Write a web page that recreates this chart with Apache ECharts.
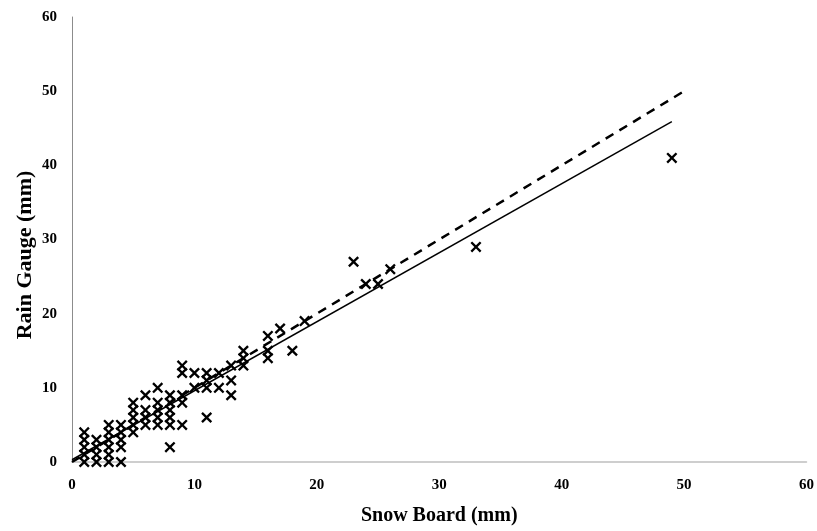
<!DOCTYPE html>
<html>
<head>
<meta charset="utf-8">
<script src="https://cdn.jsdelivr.net/npm/echarts@6/dist/echarts.min.js"></script>
<style>
  html, body { margin: 0; padding: 0; background: #fff; }
  #main { width: 817px; height: 531px; }
</style>
</head>
<body>
<div id="main"></div>
<script>
// snow board vs rain gauge readings (mm)
var snowBoard = [
  1, 1, 1, 1, 1,
  2, 2, 2, 2,
  3, 3, 3, 3, 3, 3,
  4, 4, 4, 4, 4,
  5, 5, 5, 5, 5,
  6, 6, 6, 6,
  7, 7, 7, 7, 7,
  8, 8, 8, 8, 8, 8,
  9, 9, 9, 9, 9,
  10, 10,
  11, 11, 11, 11,
  12, 12,
  13, 13, 13,
  14, 14, 14,
  16, 16, 16,
  17, 18, 19, 23, 24, 25, 26, 33, 49
];
var rainGauge = [
  0, 1, 2, 3, 4,
  0, 1, 2, 3,
  0, 1, 2, 3, 4, 5,
  0, 2, 3, 4, 5,
  4, 5, 6, 7, 8,
  5, 6, 7, 9,
  5, 6, 7, 8, 10,
  2, 5, 6, 7, 8, 9,
  5, 8, 9, 12, 13,
  10, 12,
  6, 10, 11, 12,
  10, 12,
  9, 11, 13,
  13, 14, 15,
  14, 15, 17,
  18, 15, 19, 27, 24, 24, 26, 29, 41
];
// fitted line and 1:1 line end points
var fitX = [0, 49];
var fitY = [0.3, 45.9];
var oneToOneX = [0, 50];
var oneToOneY = [0, 50];

var points = snowBoard.map(function (x, i) { return [x, rainGauge[i]]; });
var fitLine = fitX.map(function (x, i) { return [x, fitY[i]]; });
var refLine = oneToOneX.map(function (x, i) { return [x, oneToOneY[i]]; });

var myChart = echarts.init(document.getElementById('main'));
var labelFont = { fontFamily: 'Liberation Serif', fontWeight: 'bold', fontSize: 15, color: '#000' };

var option = {
  animation: false,
  grid: { left: 72, right: 10, top: 17, bottom: 64 },
  graphic: [{
    type: 'text',
    x: 25, y: 255,
    rotation: Math.PI / 2,
    style: {
      text: 'Rain Gauge (mm)',
      font: 'bold 22px "Liberation Serif"',
      fill: '#000',
      align: 'center',
      verticalAlign: 'middle'
    }
  }],
  xAxis: {
    type: 'value',
    min: 0, max: 60, interval: 10,
    name: 'Snow Board (mm)',
    nameLocation: 'middle',
    nameGap: 44,
    nameTextStyle: { fontFamily: 'Liberation Serif', fontWeight: 'bold', fontSize: 20, color: '#000' },
    axisLine: { lineStyle: { color: '#bfbfbf', width: 1.5 } },
    axisTick: { show: false },
    splitLine: { show: false },
    axisLabel: Object.assign({ margin: 16 }, labelFont)
  },
  yAxis: {
    type: 'value',
    min: 0, max: 60, interval: 10,
    axisLine: { show: true, lineStyle: { color: '#8c8c8c', width: 1 } },
    axisTick: { show: false },
    splitLine: { show: false },
    axisLabel: Object.assign({ margin: 15 }, labelFont)
  },
  series: [
    {
      type: 'line',
      data: refLine,
      symbol: 'none',
      lineStyle: { color: '#000', width: 2.5, type: [9, 7] },
      z: 3
    },
    {
      type: 'line',
      data: fitLine,
      symbol: 'none',
      lineStyle: { color: '#000', width: 1.5 },
      z: 3
    },
    {
      type: 'scatter',
      data: points,
      symbol: 'path://M0,1.5L1.5,0L5,3.5L8.5,0L10,1.5L6.5,5L10,8.5L8.5,10L5,6.5L1.5,10L0,8.5L3.5,5Z',
      symbolSize: 11,
      itemStyle: { color: '#000', opacity: 1 },
      z: 2
    }
  ]
};

myChart.setOption(option);
</script>
</body>
</html>
